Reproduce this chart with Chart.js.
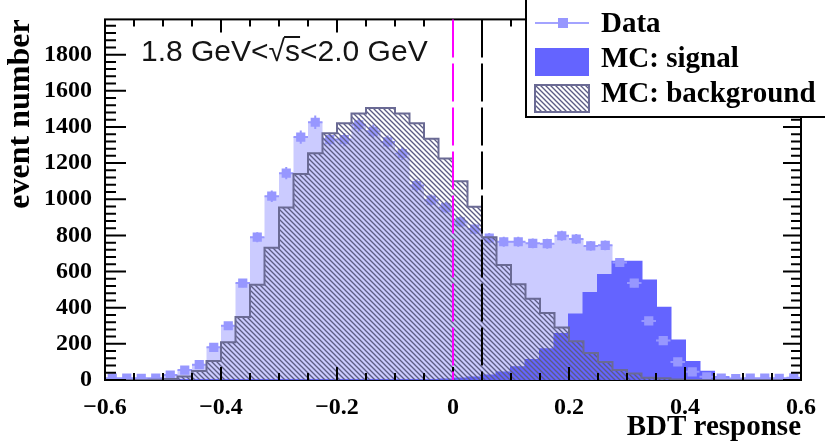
<!DOCTYPE html>
<html>
<head>
<meta charset="utf-8">
<script src="https://cdn.jsdelivr.net/npm/chart.js@4.4.1/dist/chart.umd.min.js"></script>
<style>
  html, body { margin: 0; padding: 0; background: #fff; }
  canvas { display: block; }
</style>
</head>
<body>
<canvas id="c" width="825" height="444"></canvas>
<script>
// Binning of the BDT response histograms: 48 bins of 0.025 from -0.6 to 0.6
const binLow = -0.6;
const binWidth = 0.025;

const dataCounts = [
  10, 10, 9, 10, 27, 55, 85, 181, 300, 536,
  790, 1017, 1144, 1344, 1426, 1330, 1330, 1412, 1376, 1317,
  1253, 1076, 995, 954, 875, 835, 785, 765, 765, 756,
  754, 798, 780, 742, 745, 650, 536, 327, 218, 100,
  45, 18, 10, 8, 10, 10, 9, 12
];

const signalCounts = [
  0, 0, 0, 0, 0, 0, 0, 0, 0, 0,
  0, 0, 0, 0, 0, 0, 0, 0, 0, 0,
  0, 0, 0, 3, 8, 14, 25, 42, 70, 110,
  170, 255, 363, 481, 581, 654, 654, 550, 400, 218,
  100, 45, 15, 4, 0, 0, 0, 0
];

const backgroundCounts = [
  0, 0, 0, 2, 6, 20, 50, 105, 209, 349,
  527, 732, 954, 1140, 1255, 1365, 1420, 1475, 1505, 1505,
  1475, 1420, 1335, 1226, 1099, 959, 790, 636, 530, 450,
  370, 290, 215, 150, 100, 56, 36, 12, 10, 3,
  0, 0, 0, 0, 0, 0, 0, 0
];

const xTicks = [-0.6, -0.4, -0.2, 0, 0.2, 0.4, 0.6];
const yTicks = [0, 200, 400, 600, 800, 1000, 1200, 1400, 1600, 1800];
const xMinorStep = 0.05;
const yMinorStep = 40;
const cutValues = [0, 0.05];
const cutColors = ['#ff00ff', '#000000'];
const legendLabels = ['Data', 'MC: signal', 'MC: background'];
const energyLabel = ['1.8 GeV<', '\u221A', 's', '<2.0 GeV'];

const colData = '#9797ff';
const colDataFill = '#cbcbff';
const colSignal = '#6464ff';
const colBkgLine = '#6a6a94';
const colHatch = '#5c5c84';

// Histogram outline: two corner points per bin so the steps are explicit
function histPoints(counts) {
  const pts = [{ x: binLow, y: 0 }];
  counts.forEach((c, i) => {
    pts.push({ x: binLow + i * binWidth, y: c });
    pts.push({ x: binLow + (i + 1) * binWidth, y: c });
  });
  pts.push({ x: binLow + counts.length * binWidth, y: 0 });
  return pts;
}

function centerPoints(counts) {
  return counts.map((c, i) => ({ x: binLow + (i + 0.5) * binWidth, y: c }));
}

function hatchPattern(size, color, width) {
  const c = document.createElement('canvas');
  c.width = c.height = size;
  const g = c.getContext('2d');
  g.strokeStyle = color;
  g.lineWidth = width;
  g.beginPath();
  for (const o of [-size, 0, size]) {
    g.moveTo(o - 1, -1);
    g.lineTo(o + size + 1, size + 1);
  }
  g.stroke();
  return g.createPattern(c, 'repeat');
}
const hatch = hatchPattern(5, colHatch, 1.35);

const serif = 'Liberation Serif';

function fmtTick(v) {
  if (Math.abs(v) < 1e-9) return '0';
  return (v < 0 ? '\u2212' : '') + Math.abs(v).toFixed(1);
}

// Error bars for the data points: bin width horizontally, sqrt(N) vertically
const errorBars = {
  id: 'errorBars',
  beforeDatasetDraw(chart, args) {
    if (args.meta._dataset.label !== 'Data') return;
    const { ctx } = chart;
    const xs = chart.scales.x, ys = chart.scales.y;
    ctx.save();
    ctx.strokeStyle = colData;
    ctx.lineWidth = 2;
    ctx.beginPath();
    dataCounts.forEach((c, i) => {
      const xc = binLow + (i + 0.5) * binWidth;
      const x0 = xs.getPixelForValue(xc - binWidth / 2);
      const x1 = xs.getPixelForValue(xc + binWidth / 2);
      const py = ys.getPixelForValue(c);
      ctx.moveTo(x0, py); ctx.lineTo(x1, py);
      const e = Math.sqrt(c);
      const px = xs.getPixelForValue(xc);
      ctx.moveTo(px, ys.getPixelForValue(c - e));
      ctx.lineTo(px, ys.getPixelForValue(c + e));
    });
    ctx.stroke();
    ctx.restore();
  }
};

// Frame, inward ticks, cut lines, energy label and legend box
const frameDecor = {
  id: 'frameDecor',
  beforeDatasetsDraw(chart) {
    const { ctx, chartArea: a } = chart;
    ctx.save();
    ctx.strokeStyle = '#000';
    ctx.lineWidth = 2;
    ctx.strokeRect(a.left, a.top, a.right - a.left, a.bottom - a.top);
    ctx.restore();
  },
  afterDatasetsDraw(chart) {
    const { ctx, chartArea: a } = chart;
    const xs = chart.scales.x, ys = chart.scales.y;
    ctx.save();

    // ticks
    ctx.strokeStyle = '#000';
    ctx.lineWidth = 2;
    ctx.beginPath();
    const nx = Math.round((xs.max - xs.min) / xMinorStep);
    for (let k = 0; k <= nx; k++) {
      const v = xs.min + k * xMinorStep;
      const px = xs.getPixelForValue(v);
      const len = k % 4 === 0 ? 13 : 7;
      ctx.moveTo(px, a.bottom); ctx.lineTo(px, a.bottom - len);
      ctx.moveTo(px, a.top); ctx.lineTo(px, a.top + len);
    }
    for (let k = 0; k * yMinorStep <= ys.max; k++) {
      const py = ys.getPixelForValue(k * yMinorStep);
      const major = k % 5 === 0;
      ctx.moveTo(a.left, py); ctx.lineTo(a.left + (major ? 21 : 11), py);
      ctx.moveTo(a.right, py); ctx.lineTo(a.right - (major ? 18 : 10), py);
    }
    ctx.stroke();

    // cut lines, drawn over the ticks
    cutValues.forEach((v, i) => {
      const px = xs.getPixelForValue(v);
      ctx.strokeStyle = cutColors[i];
      ctx.lineWidth = 2;
      ctx.setLineDash([38, 6]);
      ctx.lineDashOffset = 0;
      ctx.beginPath();
      ctx.moveTo(px, a.top);
      ctx.lineTo(px, a.bottom);
      ctx.stroke();
    });
    ctx.setLineDash([]);

    // energy range label
    ctx.fillStyle = '#141414';
    ctx.font = '30px "Liberation Sans"';
    ctx.textBaseline = 'alphabetic';
    let tx = 141;
    const ty = 61;
    energyLabel.forEach((part, i) => {
      ctx.fillText(part, tx, ty);
      const w = ctx.measureText(part).width;
      if (i === 2) {
        ctx.lineWidth = 2;
        ctx.strokeStyle = '#141414';
        ctx.beginPath();
        ctx.moveTo(tx - 1, 37); ctx.lineTo(tx + w, 37);
        ctx.stroke();
      }
      tx += w;
    });

    // legend box
    ctx.fillStyle = '#fff';
    ctx.fillRect(526, -4, 310, 121);
    ctx.strokeStyle = '#000';
    ctx.lineWidth = 2;
    ctx.strokeRect(526, -4, 310, 121);

    // Data entry: line with marker
    ctx.strokeStyle = '#a3a3ff';
    ctx.lineWidth = 2;
    ctx.beginPath(); ctx.moveTo(535, 23); ctx.lineTo(589, 23); ctx.stroke();
    ctx.fillStyle = colData;
    ctx.fillRect(558, 18, 10, 10);

    // signal entry
    ctx.fillStyle = colSignal;
    ctx.fillRect(535, 48, 54, 28);

    // background entry
    ctx.fillStyle = '#fff';
    ctx.fillRect(535, 85, 54, 27);
    ctx.fillStyle = hatch;
    ctx.fillRect(535, 85, 54, 27);
    ctx.strokeStyle = colBkgLine;
    ctx.lineWidth = 2;
    ctx.strokeRect(535, 85, 54, 27);

    ctx.fillStyle = '#000';
    ctx.font = 'bold 29px "Liberation Serif"';
    ctx.textBaseline = 'alphabetic';
    [32, 67, 102].forEach((y, i) => ctx.fillText(legendLabels[i], 601, y));

    ctx.restore();
  }
};

new Chart(document.getElementById('c'), {
  type: 'line',
  data: {
    datasets: [
      {
        label: 'MC: background',
        data: histPoints(backgroundCounts),
        order: 0,
        borderColor: colBkgLine,
        borderWidth: 2,
        backgroundColor: hatch,
        fill: 'origin',
        pointRadius: 0,
        tension: 0
      },
      {
        label: 'Data',
        data: centerPoints(dataCounts),
        order: 1,
        showLine: false,
        pointStyle: 'rect',
        pointRadius: 6.5,
        pointBorderWidth: 0,
        pointBackgroundColor: colData,
        pointHoverRadius: 6.5
      },
      {
        label: 'MC: signal',
        data: histPoints(signalCounts),
        order: 2,
        borderColor: colSignal,
        borderWidth: 2,
        backgroundColor: colSignal,
        fill: 'origin',
        pointRadius: 0,
        tension: 0
      },
      {
        label: 'Data fill',
        data: histPoints(dataCounts),
        order: 3,
        borderWidth: 0,
        borderColor: colDataFill,
        backgroundColor: colDataFill,
        fill: 'origin',
        pointRadius: 0,
        tension: 0
      }
    ]
  },
  options: {
    responsive: false,
    animation: false,
    devicePixelRatio: 1,
    events: [],
    layout: { padding: { top: 14, right: 24, left: 0, bottom: 0 } },
    plugins: { legend: { display: false }, tooltip: { enabled: false } },
    scales: {
      x: {
        type: 'linear',
        min: -0.6,
        max: 0.6,
        grid: { display: false },
        border: { display: false },
        afterFit(s) { s.height = 64; },
        afterBuildTicks(s) { s.ticks = xTicks.map(v => ({ value: v })); },
        ticks: {
          autoSkip: false,
          maxRotation: 0,
          padding: 5,
          color: '#000',
          font: { family: serif, size: 24, weight: 'bold' },
          callback: v => fmtTick(v)
        },
        title: {
          display: true,
          text: 'BDT response',
          align: 'end',
          color: '#000',
          font: { family: serif, size: 29, weight: 'bold' },
          padding: { top: 0, bottom: -1 }
        }
      },
      y: {
        type: 'linear',
        min: 0,
        max: 1995,
        grid: { display: false },
        border: { display: false },
        afterFit(s) { s.width = 105; },
        afterBuildTicks(s) { s.ticks = yTicks.map(v => ({ value: v })); },
        ticks: {
          autoSkip: false,
          padding: 5,
          color: '#000',
          font: { family: serif, size: 24, weight: 'bold' },
          callback: v => String(v)
        },
        title: {
          display: true,
          text: 'event number',
          align: 'end',
          color: '#000',
          font: { family: serif, size: 32, weight: 'bold' },
          padding: { top: 2, bottom: 0 }
        }
      }
    }
  },
  plugins: [errorBars, frameDecor]
});
</script>
</body>
</html>
